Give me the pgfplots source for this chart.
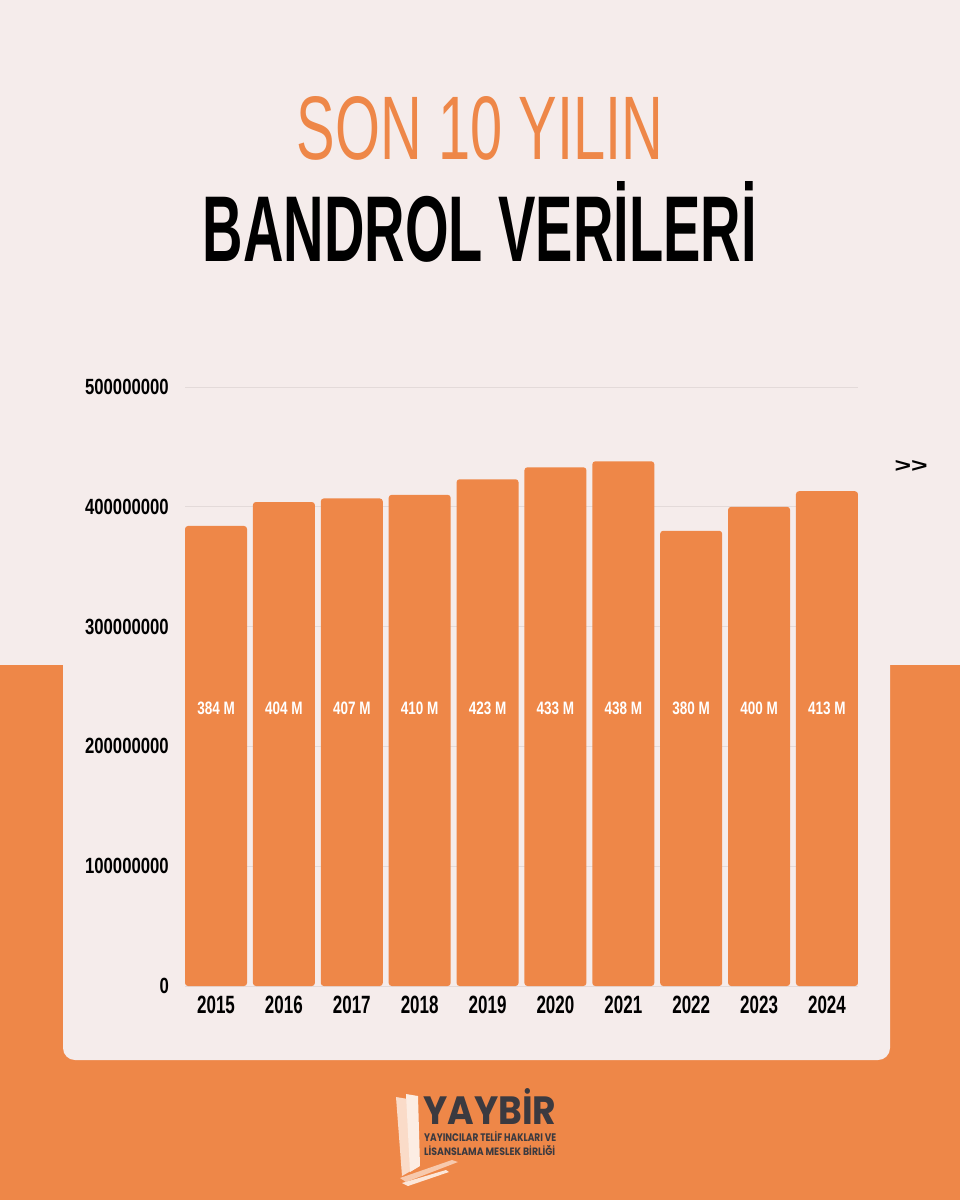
\documentclass[border=0pt]{standalone}
\usepackage{pgfplots}
\pgfplotsset{compat=1.18}
\usepackage{fontspec}
\setmainfont{Liberation Sans}
\newfontfamily\bebas[FakeStretch=0.68]{Liberation Sans Bold}
\newfontfamily\bebasy[FakeStretch=0.76]{Liberation Sans Bold}
\newfontfamily\bebasn[FakeStretch=0.75]{Liberation Sans Bold}
\newfontfamily\titlereg{Liberation Sans}
\newfontfamily\titlebold{Liberation Sans Bold}
\newfontfamily\logofont{Poppins}
\definecolor{bgpink}{HTML}{F5ECEB}
\definecolor{orng}{HTML}{EE8748}
\definecolor{gridc}{HTML}{E3DAD9}
\definecolor{logodark}{HTML}{3B3A40}
\begin{document}
\begin{tikzpicture}[x=1pt,y=-1pt]
\useasboundingbox (0,0) rectangle (960,1200);
\fill[bgpink] (0,0) rectangle (960,1200);
\fill[orng] (0,665) rectangle (960,1200);
\fill[bgpink, rounded corners=12pt] (63,600) rectangle (890,1060);
% titles
\node[inner sep=0pt, text=orng] at (480,128.5) {\resizebox{366pt}{63pt}{\titlereg SON 10 YILIN}};
\node[inner sep=0pt, text=black] at (480,222) {\resizebox{554pt}{80pt}{\titlebold BANDROL VER\.{I}LER\.{I}}};
\node[inner sep=0pt, text=black] at (911,466) {\resizebox{33pt}{12pt}{\titlebold >>}};
\begin{axis}[
  at={(185pt,-986pt)}, anchor=south west,
  scale only axis, width=673pt, height=599pt,
  xmin=-0.457, xmax=9.457, ymin=0, ymax=5e8,
  axis line style={draw=none},
  major tick length=0pt,
  ymajorgrids, grid style={draw=gridc, line width=1pt},
  xtick={0,...,9},
  xticklabels={2015,2016,2017,2018,2019,2020,2021,2022,2023,2024},
  ytick={0,1e8,2e8,3e8,4e8,5e8},
  yticklabels={0,100000000,200000000,300000000,400000000,500000000},
  scaled y ticks=false,
  xticklabel style={font=\bebas\fontsize{25}{25}\selectfont, text=black, yshift=-6pt},
  yticklabel style={font=\bebasy\fontsize{22}{22}\selectfont, text=black, anchor=east, inner sep=0pt, xshift=-16pt},
  clip=false,
]
\addplot[ybar, bar width=62pt, fill=orng, draw=none, rounded corners=3pt] coordinates {
 (0,384e6) (1,404e6) (2,407e6) (3,410e6) (4,423e6)
 (5,433e6) (6,438e6) (7,380e6) (8,400e6) (9,413e6)};
\addplot[draw=none, mark=none, nodes near coords, point meta=explicit symbolic,
  every node near coord/.append style={anchor=center, text=white, font=\bebasn\fontsize{18}{18}\selectfont}]
 coordinates {
 (0,232e6) [384 M] (1,232e6) [404 M] (2,232e6) [407 M] (3,232e6) [410 M] (4,232e6) [423 M]
 (5,232e6) [433 M] (6,232e6) [438 M] (7,232e6) [380 M] (8,232e6) [400 M] (9,232e6) [413 M]};
\end{axis}
% logo
\fill[white!70!orng] (396,1097) -- (408,1099) -- (416,1168) -- (402,1176) -- cycle;
\fill[white!85!orng] (406,1094) -- (418,1096) -- (420,1166) -- (410,1172) -- cycle;
\fill[white!55!orng] (400,1178) -- (452,1160) -- (458,1162) -- (406,1182) -- cycle;
\fill[white!80!orng] (402,1183) -- (446,1170) -- (449,1172) -- (408,1186) -- cycle;
\node[inner sep=0pt, anchor=north west, text=logodark] at (423,1088) {\resizebox{133pt}{36pt}{\logofont\bfseries YAYB\.{I}R}};
\node[inner sep=0pt, anchor=north west, text=logodark] at (424,1131) {\resizebox{132pt}{10pt}{\logofont\bfseries YAYINCILAR TEL\.{I}F HAKLARI VE}};
\node[inner sep=0pt, anchor=north west, text=logodark] at (424,1145.5) {\resizebox{131pt}{10pt}{\logofont\bfseries L\.{I}SANSLAMA MESLEK B\.{I}RL\.{I}\u{G}\.{I}}};
\end{tikzpicture}
\end{document}
